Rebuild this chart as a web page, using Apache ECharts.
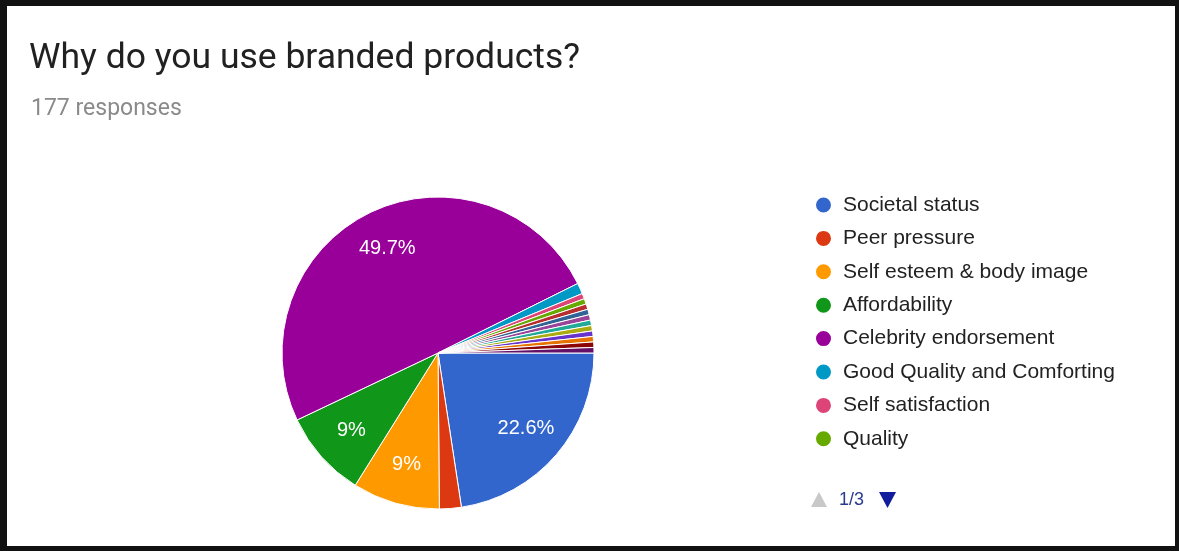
<!DOCTYPE html>
<html>
<head>
<meta charset="utf-8">
<script src="https://cdn.jsdelivr.net/npm/echarts@6/dist/echarts.min.js"></script>
<style>
  html, body { margin: 0; padding: 0; background: #fff; }
  #chart { position: absolute; left: 0; top: 0; width: 1179px; height: 551px; }
  #frame {
    position: absolute; left: 0; top: 0; width: 1179px; height: 551px;
    box-sizing: border-box; pointer-events: none;
    border-left: 7px solid #111; border-top: 6px solid #111;
    border-right: 4px solid #111; border-bottom: 5px solid #111;
  }
</style>
</head>
<body>
<div id="chart"></div>
<div id="frame"></div>
<script>
// Survey answers: "Why do you use branded products?" (177 responses)
const categories = [
  'Societal status', 'Peer pressure', 'Self esteem & body image', 'Affordability',
  'Celebrity endorsement', 'Good Quality and Comforting', 'Self satisfaction', 'Quality',
  'Comfort', 'Trust', 'Durability', 'Style', 'Brand value',
  'Fashion', 'Uniqueness', 'Reliability', 'Long lasting'
];
const responses = [40, 4, 16, 16, 88, 2, 1, 1, 1, 1, 1, 1, 1, 1, 1, 1, 1];
const palette = [
  '#3366cc', '#dc3912', '#ff9900', '#109618', '#990099', '#0099c6', '#dd4477', '#66aa00',
  '#b82e2e', '#316395', '#994499', '#22aa99', '#aaaa11', '#6633cc', '#e67300', '#8b0707', '#651067'
];
const totalResponses = 177;
const legendPageSize = 8;

const pieData = categories.map((name, i) => ({ name, value: responses[i] }));
const CENTER = [438, 353];
const R = 156;

function pctLabel(p) {
  const v = p.value / totalResponses * 100;
  if (v < 5) return '';
  return parseFloat(v.toFixed(1)) + '%';
}

const pageCount = Math.ceil(categories.length / legendPageSize);

const chart = echarts.init(document.getElementById('chart'), null, { renderer: 'canvas' });
chart.setOption({
  animation: false,
  color: palette,
  title: [
    {
      text: 'Why do you use branded products?',
      left: 24, top: 36,
      textStyle: { fontFamily: 'Roboto', fontSize: 35.5, fontWeight: 'normal', color: '#212121' }
    },
    {
      text: totalResponses + ' responses',
      left: 26, top: 93,
      textStyle: { fontFamily: 'Roboto', fontSize: 23, fontWeight: 'normal', color: '#8a8a8a' }
    }
  ],
  legend: {
    type: 'plain',
    orient: 'vertical',
    left: 809, top: 189.5,
    icon: 'circle',
    itemWidth: 17, itemHeight: 17,
    itemGap: 12.4,
    data: categories.slice(0, legendPageSize),
    textStyle: { fontFamily: 'Liberation Sans', fontSize: 21, lineHeight: 21, color: '#222', padding: [0, 0, 0, 6] }
  },
  // page indicator under the legend
  graphic: [
    {
      type: 'polygon', left: 811, top: 492,
      shape: { points: [[8, 0], [16, 15], [0, 15]] },
      style: { fill: '#c8c8c8' }
    },
    {
      type: 'text', left: 839, top: 491,
      style: { text: '1/' + pageCount, font: '18px "Liberation Sans"', fill: '#2a3a8f' }
    },
    {
      type: 'polygon', left: 879, top: 492,
      shape: { points: [[0, 0], [17, 0], [8.5, 16]] },
      style: { fill: '#111d9c' }
    }
  ],
  series: [
    {
      type: 'pie',
      center: CENTER,
      radius: [0, R],
      startAngle: 0,
      clockwise: true,
      avoidLabelOverlap: false,
      itemStyle: { borderColor: '#fff', borderWidth: 1 },
      label: { show: false },
      labelLine: { show: false },
      emphasis: { disabled: true },
      data: pieData
    },
    {
      // transparent ring used only to place percentage labels farther out
      type: 'pie',
      center: CENTER,
      radius: [70, R],
      startAngle: 0,
      clockwise: true,
      silent: true,
      avoidLabelOverlap: false,
      itemStyle: { color: 'rgba(0,0,0,0)', borderWidth: 0 },
      label: {
        show: true, position: 'inside', formatter: pctLabel,
        fontFamily: 'Liberation Sans', fontSize: 20, color: '#fff'
      },
      labelLine: { show: false },
      emphasis: { disabled: true },
      data: pieData
    }
  ]
});
</script>
</body>
</html>
